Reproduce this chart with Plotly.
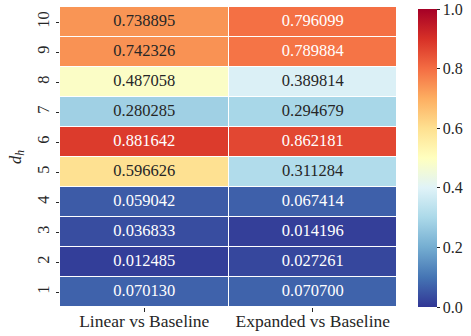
import plotly.graph_objects as go
from plotly.colors import diverging, sample_colorscale, unlabel_rgb, make_colorscale

# Similarity of each head dimension d_h to the baseline
d_h = [1, 2, 3, 4, 5, 6, 7, 8, 9, 10]
comparisons = ["Linear vs Baseline", "Expanded vs Baseline"]
linear_vs_baseline = [0.070130, 0.012485, 0.036833, 0.059042, 0.596626,
                      0.881642, 0.280285, 0.487058, 0.742326, 0.738895]
expanded_vs_baseline = [0.070700, 0.027261, 0.014196, 0.067414, 0.311284,
                        0.862181, 0.294679, 0.389814, 0.789884, 0.796099]
cbar_ticks = [0.0, 0.2, 0.4, 0.6, 0.8, 1.0]

FONT = "Liberation Serif"
colorscale = make_colorscale(diverging.RdYlBu[::-1])

z = [[a, b] for a, b in zip(linear_vs_baseline, expanded_vs_baseline)]


def rel_luminance(rgb):
    out = []
    for c in rgb:
        c = c / 255.0
        out.append(c / 12.92 if c <= 0.03928 else ((c + 0.055) / 1.055) ** 2.4)
    return 0.2126 * out[0] + 0.7152 * out[1] + 0.0722 * out[2]


tx, ty, tt, tc = [], [], [], []
for j, col in enumerate(comparisons):
    series = linear_vs_baseline if j == 0 else expanded_vs_baseline
    for d, v in zip(d_h, series):
        rgb = unlabel_rgb(sample_colorscale(colorscale, [v])[0])
        tx.append(col)
        ty.append(d)
        tt.append(f"{v:.6f}")
        tc.append("#262626" if rel_luminance(rgb) > 0.408 else "white")

fig = go.Figure()
fig.add_trace(go.Heatmap(
    x=comparisons, y=d_h, z=z,
    zmin=0, zmax=1, colorscale=colorscale,
    xgap=1, ygap=1,
    colorbar=dict(
        x=1.062, xanchor="left", y=0.0, yanchor="bottom", len=0.993,
        thickness=19, outlinewidth=0, xpad=0, ypad=0,
        tickvals=cbar_ticks, tickformat=".1f", ticklabeloverflow="allow",
        ticks="outside", ticklen=3, tickcolor="#262626",
        tickfont=dict(family=FONT, size=16, color="#262626"),
    ),
    hoverinfo="skip",
))
fig.add_trace(go.Scatter(
    x=tx, y=ty, text=tt, mode="text",
    textfont=dict(family=FONT, size=16.5, color=tc),
    showlegend=False, hoverinfo="skip",
))

fig.update_layout(
    width=471, height=336,
    margin=dict(l=60, r=74, t=7, b=29, autoexpand=False),
    plot_bgcolor="white", paper_bgcolor="white",
    font=dict(family=FONT, size=16.5, color="#262626"),
    showlegend=False,
)
fig.update_xaxes(
    automargin=False,
    showgrid=False, zeroline=False, showline=False,
    ticks="outside", ticklen=3.5, tickcolor="#262626",
    ticklabelstandoff=-6,
    tickfont=dict(family=FONT, size=17.5),
)
fig.update_yaxes(
    automargin=False,
    tickvals=d_h, range=[0.5, 10.5],
    showgrid=False, zeroline=False, showline=False,
    ticks="outside", ticklen=3.5, tickcolor="#262626", tickangle=-90,
    tickfont=dict(family=FONT, size=16.5),
    title=dict(text="<i>d</i><sub><i>h</i></sub>", standoff=8,
               font=dict(family=FONT, size=16.5)),
)

fig.write_html("out.html")
